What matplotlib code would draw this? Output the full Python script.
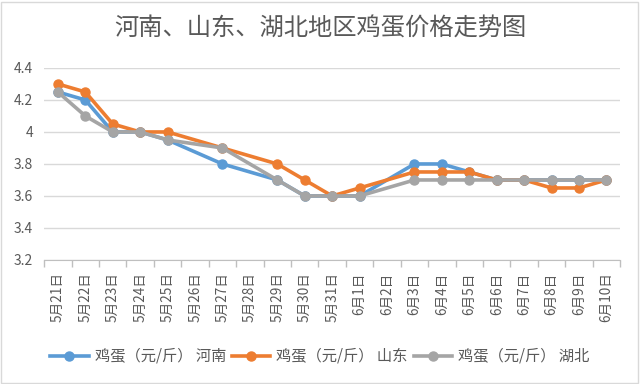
import numpy as np
import matplotlib.pyplot as plt
from matplotlib.patches import Rectangle

plt.rcParams['font.family'] = ['Noto Sans CJK SC', 'DejaVu Sans']

dates = ['5月21日', '5月22日', '5月23日', '5月24日', '5月25日', '5月26日', '5月27日',
         '5月28日', '5月29日', '5月30日', '5月31日', '6月1日', '6月2日', '6月3日',
         '6月4日', '6月5日', '6月6日', '6月7日', '6月8日', '6月9日', '6月10日']
nan = np.nan
henan = [4.25, 4.2, 4.0, 4.0, 3.95, nan, 3.8, nan, 3.7, 3.6, 3.6, 3.6, nan, 3.8,
         3.8, 3.75, 3.7, 3.7, 3.7, 3.7, 3.7]
shandong = [4.3, 4.25, 4.05, 4.0, 4.0, nan, 3.9, nan, 3.8, 3.7, 3.6, 3.65, nan, 3.75,
            3.75, 3.75, 3.7, 3.7, 3.65, 3.65, 3.7]
hubei = [4.25, 4.1, 4.0, 4.0, 3.95, nan, 3.9, nan, 3.7, 3.6, 3.6, 3.6, nan, 3.7,
         3.7, 3.7, 3.7, 3.7, 3.7, 3.7, 3.7]
names = ['鸡蛋（元/斤） 河南', '鸡蛋（元/斤） 山东', '鸡蛋（元/斤） 湖北']
colors = ['#5B9BD5', '#ED7D31', '#A5A5A5']

txt = '#595959'
fig = plt.figure(figsize=(6.4, 3.84), dpi=100)
ax = fig.add_axes([0.069, 0.323, 0.9, 0.5])

x = np.arange(len(dates))
for ys, name, c in zip([henan, shandong, hubei], names, colors):
    ys = np.array(ys)
    ok = ~np.isnan(ys)
    ax.plot(x[ok], ys[ok], color=c, lw=2.6, marker='o', markersize=6.5,
            label=name, zorder=3)

ax.set_xlim(-0.5, len(dates) - 0.5)
ax.set_ylim(3.2, 4.4)
ax.set_yticks([3.2, 3.4, 3.6, 3.8, 4.0, 4.2, 4.4])
ax.set_yticklabels(['3.2', '3.4', '3.6', '3.8', '4', '4.2', '4.4'])
ax.yaxis.grid(True, color='#D9D9D9', lw=1)
ax.set_axisbelow(True)
ax.tick_params(axis='y', length=0, labelsize=10, labelcolor=txt, pad=8)

ax.set_xticks(x)
ax.set_xticklabels(dates, rotation=90)
ax.set_xticks(np.arange(-0.5, len(dates)), minor=True)
ax.tick_params(axis='x', which='major', length=0, labelsize=9.8, labelcolor=txt, pad=9)
ax.tick_params(axis='x', which='minor', length=5, color='#BFBFBF', width=1)

for s in ['left', 'right', 'top']:
    ax.spines[s].set_visible(False)
ax.spines['bottom'].set_color('#BFBFBF')

fig.text(0.5, 0.925, '河南、山东、湖北地区鸡蛋价格走势图', ha='center', va='center',
         fontsize=17.5, color=txt)

fig.legend(loc='center', bbox_to_anchor=(0.5, 0.072), ncol=3, frameon=False,
           fontsize=11, labelcolor=txt, handlelength=2.5, columnspacing=0.4,
           handletextpad=0.4)

fig.patches.append(Rectangle((0.002, 0.003), 0.995, 0.993, transform=fig.transFigure,
                             fill=False, edgecolor='#D9D9D9', lw=1))

fig.savefig('out.png', dpi=100, facecolor='white')
